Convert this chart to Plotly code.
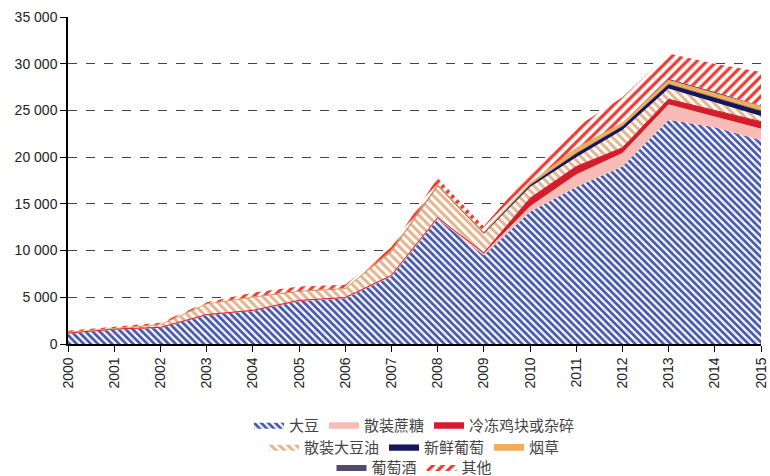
import plotly.graph_objects as go

years = list(range(2000, 2016))

soybean = [1140, 1570, 1750, 3100, 3550, 4600, 4900, 7250, 13400, 9500, 14150, 16800, 19000, 24000, 23200, 21800]
sugar = [10, 10, 10, 20, 20, 30, 30, 40, 50, 150, 550, 1300, 1400, 1600, 1100, 1200]
chicken = [20, 20, 20, 30, 30, 40, 40, 60, 80, 100, 900, 900, 600, 600, 700, 800]
soy_oil = [130, 120, 320, 1150, 1450, 980, 980, 2550, 3370, 2050, 1200, 1000, 1900, 1150, 900, 600]
grapes = [5, 5, 5, 5, 10, 10, 10, 20, 20, 100, 200, 400, 400, 450, 500, 550]
tobacco = [10, 10, 10, 20, 30, 40, 40, 100, 200, 100, 200, 500, 300, 400, 400, 450]
wine = [0, 0, 0, 0, 5, 5, 5, 10, 10, 50, 50, 100, 100, 200, 200, 100]
other = [90, 120, 150, 150, 400, 450, 350, 350, 650, 550, 1050, 2200, 2700, 2700, 3000, 3600]

series = [
    ("大豆", soybean, "#4657ae", "\\", "legend", 0, 5, 0.55),
    ("散装蔗糖", sugar, "#f8bcb6", None, "legend", 1, 0, 0),
    ("冷冻鸡块或杂碎", chicken, "#d51c2c", None, "legend", 1, 0, 0),
    ("散装大豆油", soy_oil, "#e4b28c", "\\", "legend2", 0, 6, 0.5),
    ("新鲜葡萄", grapes, "#16165c", None, "legend2", 0.5, 0, 0),
    ("烟草", tobacco, "#eeae5b", None, "legend2", 1.5, 0, 0),
    ("葡萄酒", wine, "#544b6b", None, "legend3", 0, 0, 0),
    ("其他", other, "#ec3a31", "/", "legend3", 0, 7, 0.46),
]

fig = go.Figure()
for name, vals, color, pat, lg, lw, psize, psol in series:
    kw = dict(x=years, y=vals, name=name, mode="lines", stackgroup="one", legend=lg)
    if pat:
        kw["line"] = dict(width=0, color=color)
        kw["fillpattern"] = dict(shape=pat, fgcolor=color, fgopacity=1, bgcolor="white", size=psize, solidity=psol)
        kw["fillcolor"] = "white"
    else:
        kw["line"] = dict(width=lw, color=color)
        kw["fillcolor"] = color
    fig.add_trace(go.Scatter(**kw))

font_family = "Liberation Sans, Arial, Noto Sans CJK SC, sans-serif"
leg_common = dict(orientation="h", xanchor="center", x=0.5, yanchor="middle", traceorder="normal",
                  font=dict(size=15, color="#444", family="Noto Sans CJK SC, Liberation Sans"),
                  bgcolor="rgba(0,0,0,0)", itemwidth=30, tracegroupgap=0)

fig.update_layout(
    width=770, height=476,
    margin=dict(l=68, r=9, t=17, b=132, autoexpand=False),
    paper_bgcolor="white", plot_bgcolor="white",
    separators=". ",
    font=dict(family=font_family, size=14, color="#222"),
    showlegend=True,
    legend=dict(y=-0.248, **leg_common),
    legend2=dict(y=-0.315, **leg_common),
    legend3=dict(y=-0.377, **leg_common),
    xaxis=dict(range=[2000, 2015], tickmode="array", tickvals=years, ticktext=[str(y) for y in years],
               tickangle=-90, showline=True, linecolor="black", linewidth=1.5, ticks="outside",
               ticklen=6, tickcolor="black", showgrid=False, zeroline=False, automargin=False,
               tickfont=dict(size=14, color="#222")),
    yaxis=dict(range=[0, 35000], dtick=5000, tickformat=",d", showline=True, linecolor="black",
               linewidth=1.5, ticks="outside", ticklen=6, tickcolor="black", automargin=False,
               showgrid=True, gridcolor="#444", griddash="dash", gridwidth=1, zeroline=False,
               tickfont=dict(size=14, color="#222")),
)

fig.write_html("out.html", config={"displayModeBar": False},
               post_script="document.body.style.margin='0';")
